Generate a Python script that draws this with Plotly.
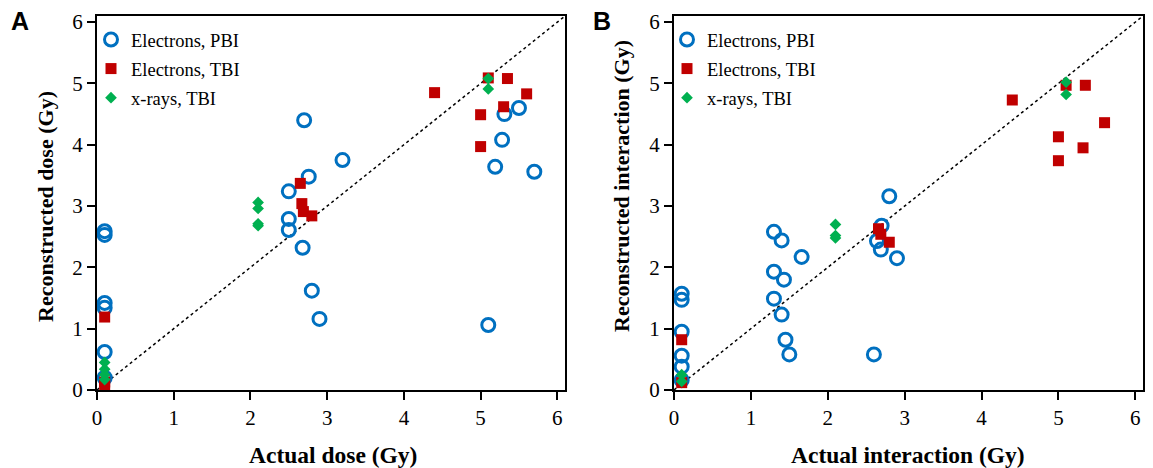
import plotly.graph_objects as go

# ---------------- Panel A: dose ----------------
a_pbi_x = [0.1, 0.1, 0.1, 0.1, 0.1, 0.1, 2.5, 2.5, 2.5, 2.7, 2.76, 2.68, 2.8, 2.9, 3.2, 5.5, 5.31, 5.28, 5.19, 5.7, 5.1]
a_pbi_y = [2.59, 2.53, 1.42, 1.34, 0.62, 0.2, 3.24, 2.79, 2.61, 4.40, 3.48, 2.32, 1.62, 1.16, 3.75, 4.60, 4.50, 4.08, 3.64, 3.56, 1.06]

a_tbi_x = [0.1, 0.1, 0.1, 2.65, 2.67, 2.69, 2.8, 4.4, 5.1, 5.35, 5.6, 5.3, 5.0, 5.0]
a_tbi_y = [1.19, 0.07, 0.13, 3.37, 3.04, 2.91, 2.84, 4.85, 5.09, 5.08, 4.83, 4.62, 4.49, 3.97]

a_xr_x = [0.1, 0.1, 0.1, 0.1, 2.1, 2.1, 2.1, 2.1, 5.1, 5.1]
a_xr_y = [0.45, 0.34, 0.25, 0.17, 3.06, 2.96, 2.71, 2.68, 5.08, 4.91]

# ---------------- Panel B: interaction ----------------
b_pbi_x = [0.1, 0.1, 0.1, 0.1, 0.1, 0.1, 1.3, 1.3, 1.3, 1.4, 1.43, 1.4, 1.45, 1.5, 1.66, 2.6, 2.7, 2.64, 2.69, 2.9, 2.8]
b_pbi_y = [1.57, 1.47, 0.95, 0.56, 0.38, 0.16, 2.58, 1.93, 1.49, 2.44, 1.80, 1.23, 0.82, 0.58, 2.17, 0.58, 2.68, 2.43, 2.29, 2.15, 3.16]

b_tbi_x = [0.1, 0.1, 2.66, 2.69, 2.8, 4.4, 5.1, 5.35, 5.6, 5.0, 5.32, 5.0]
b_tbi_y = [0.82, 0.12, 2.63, 2.54, 2.41, 4.73, 4.97, 4.97, 4.36, 4.13, 3.95, 3.74]

b_xr_x = [0.1, 0.1, 2.1, 2.1, 2.1, 5.1, 5.1]
b_xr_y = [0.25, 0.14, 2.70, 2.52, 2.48, 5.02, 4.82]

identity = [0, 6.1]
ticks = [0, 1, 2, 3, 4, 5, 6]
series_names = ["Electrons, PBI", "Electrons, TBI", "x-rays, TBI"]

BLUE = "#0070C0"
RED = "#C00000"
GREEN = "#00B050"
SERIF = "Liberation Serif, Times New Roman, serif"

fig = go.Figure()

def add_panel(xa, ya, legend, tag, pbi, tbi, xr):
    fig.add_trace(go.Scatter(x=identity, y=identity, mode="lines",
                             line=dict(color="black", width=1.5, dash="dot"),
                             showlegend=False, xaxis=xa, yaxis=ya, hoverinfo="skip"))
    fig.add_trace(go.Scatter(x=pbi[0], y=pbi[1], mode="markers", name=series_names[0],
                             marker=dict(symbol="circle-open", size=13, color=BLUE,
                                         line=dict(color=BLUE, width=3)),
                             xaxis=xa, yaxis=ya, legend=legend, legendgroup=tag + "1"))
    fig.add_trace(go.Scatter(x=tbi[0], y=tbi[1], mode="markers", name=series_names[1],
                             marker=dict(symbol="square", size=11, color=RED),
                             xaxis=xa, yaxis=ya, legend=legend, legendgroup=tag + "2"))
    fig.add_trace(go.Scatter(x=xr[0], y=xr[1], mode="markers", name=series_names[2],
                             marker=dict(symbol="diamond", size=9, color=GREEN),
                             xaxis=xa, yaxis=ya, legend=legend, legendgroup=tag + "3"))

add_panel("x", "y", "legend", "a", (a_pbi_x, a_pbi_y), (a_tbi_x, a_tbi_y), (a_xr_x, a_xr_y))
add_panel("x2", "y2", "legend2", "b", (b_pbi_x, b_pbi_y), (b_tbi_x, b_tbi_y), (b_xr_x, b_xr_y))

W, H = 1153, 468
ax_common = dict(range=[0, 6.1], tickvals=ticks, showgrid=False, zeroline=False,
                 showline=True, linecolor="black", linewidth=2, mirror=True,
                 ticks="outside", ticklen=8, tickwidth=2, tickcolor="black",
                 tickfont=dict(family=SERIF, size=21, color="black"))

yb, yt = 1 - 390 / H, 1 - 16 / H
leg_common = dict(xanchor="left", yanchor="top", bgcolor="rgba(0,0,0,0)",
                  font=dict(family=SERIF, size=18.5, color="black"),
                  itemwidth=30, tracegroupgap=2, traceorder="grouped")
fig.update_layout(
    width=W, height=H,
    margin=dict(l=0, r=0, t=0, b=0, autoexpand=False),
    paper_bgcolor="white", plot_bgcolor="white",
    xaxis=dict(domain=[97 / W, 565 / W], anchor="y", **ax_common),
    yaxis=dict(domain=[yb, yt], anchor="x", **ax_common),
    xaxis2=dict(domain=[674 / W, 1143 / W], anchor="y2", **ax_common),
    yaxis2=dict(domain=[yb, yt], anchor="x2", **ax_common),
    legend=dict(x=91 / W, y=1 - 21 / H, **leg_common),
    legend2=dict(x=667 / W, y=1 - 21 / H, **leg_common),
    showlegend=True,
)

def note(text, x, y, size, family=SERIF, angle=0):
    fig.add_annotation(text=text, xref="paper", yref="paper", x=x / W, y=1 - y / H,
                       xanchor="center", yanchor="middle", showarrow=False,
                       textangle=angle, font=dict(family=family, size=size, color="black"))

note("<b>Actual dose (Gy)</b>", 333, 455, 23.5)
note("<b>Actual interaction (Gy)</b>", 908, 455, 23.5)
note("<b>Reconstructed dose (Gy)</b>", 45, 207, 22, angle=-90)
note("<b>Reconstructed interaction (Gy)</b>", 622, 186, 22, angle=-90)
note("<b>A</b>", 20, 21, 25, family="Liberation Sans, Arial, sans-serif")
note("<b>B</b>", 602, 21, 25, family="Liberation Sans, Arial, sans-serif")

fig.write_html("out.html", config={"displayModeBar": False},
               post_script="document.body.style.margin='0';")
